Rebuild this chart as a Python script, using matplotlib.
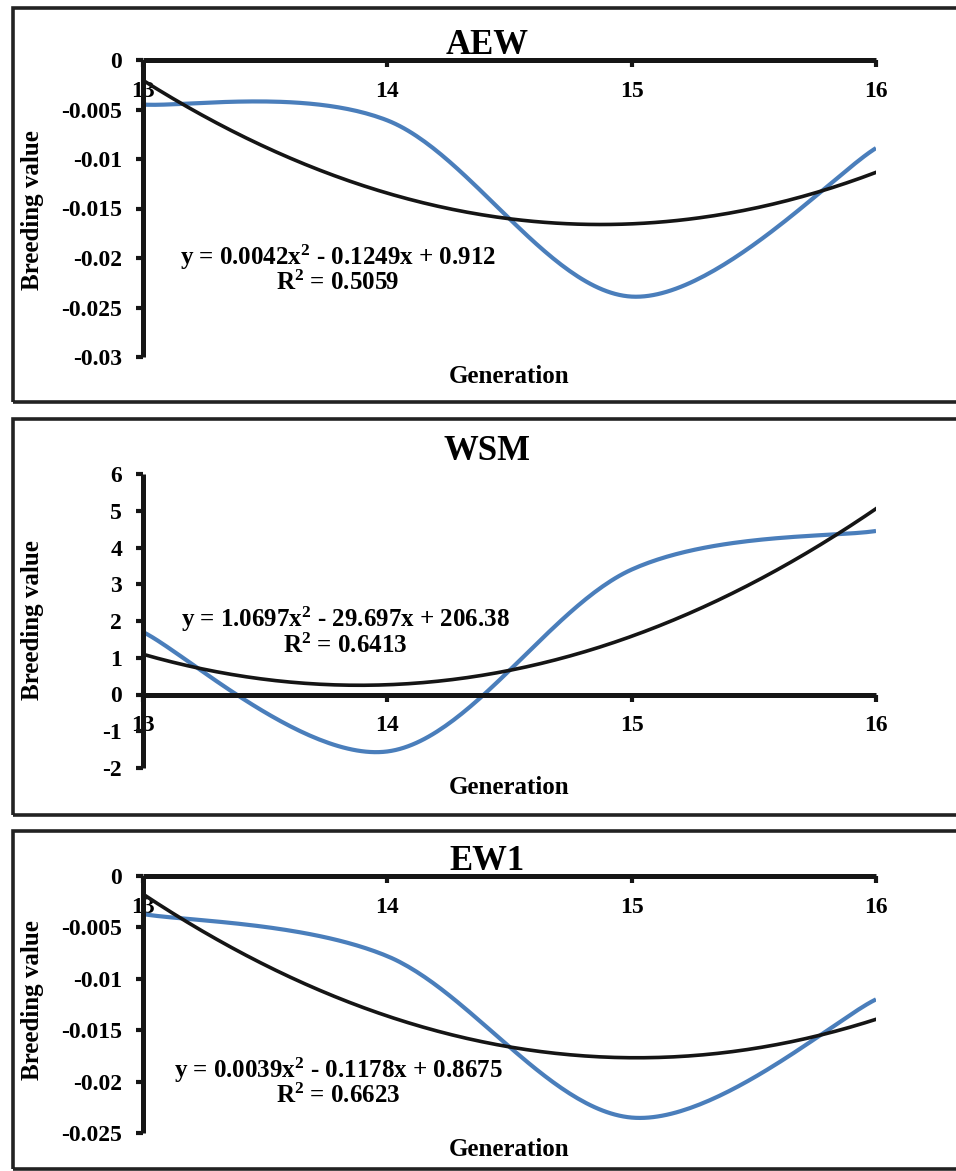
import numpy as np
import matplotlib.pyplot as plt
from matplotlib.patches import Rectangle

plt.rcParams['font.family'] = ['Liberation Serif', 'DejaVu Serif']
plt.rcParams['font.weight'] = 'bold'
plt.rcParams['mathtext.default'] = 'regular'

generations = [13, 14, 15, 16]
aew = [-0.0045, -0.0061, -0.0239, -0.0089]
wsm = [1.7, -1.55, 3.4, 4.45]
ew1 = [-0.0037, -0.0078, -0.0235, -0.0120]

aew_yticks = [0, -0.005, -0.01, -0.015, -0.02, -0.025, -0.03]
aew_ylabels = ['0', '-0.005', '-0.01', '-0.015', '-0.02', '-0.025', '-0.03']
wsm_yticks = [6, 5, 4, 3, 2, 1, 0, -1, -2]
wsm_ylabels = ['6', '5', '4', '3', '2', '1', '0', '-1', '-2']
ew1_yticks = [0, -0.005, -0.01, -0.015, -0.02, -0.025]
ew1_ylabels = ['0', '-0.005', '-0.01', '-0.015', '-0.02', '-0.025']

titles = ['AEW', 'WSM', 'EW1']
equations = ['y = 0.0042x$^2$ - 0.1249x + 0.912',
             'y = 1.0697x$^2$ - 29.697x + 206.38',
             'y = 0.0039x$^2$ - 0.1178x + 0.8675']
r2_texts = ['R$^2$ = 0.5059', 'R$^2$ = 0.6413', 'R$^2$ = 0.6623']

BLUE = '#4A7EBB'
W, H = 956, 1171


def smooth(x, y, n=60):
    # excel-like smoothed line: bezier segments with catmull-rom control points
    p = np.column_stack([x, y]).astype(float)
    pts = np.vstack([p[0], p, p[-1]])
    t = np.linspace(0, 1, n)[:, None]
    segs = []
    for i in range(1, len(pts) - 2):
        p0, p1, p2, p3 = pts[i - 1], pts[i], pts[i + 1], pts[i + 2]
        c1 = p1 + (p2 - p0) / 6
        c2 = p2 - (p3 - p1) / 6
        segs.append((1 - t)**3 * p1 + 3 * (1 - t)**2 * t * c1
                    + 3 * (1 - t) * t**2 * c2 + t**3 * p2)
    return np.vstack(segs)


def fx(px):
    return px / W


def fy(py):
    return 1 - py / H


fig = plt.figure(figsize=(9.56, 11.71), dpi=100)

# panel: (series, yticks, ylabels, axes top/bottom px, frame top/bottom px,
#         title y, eq centre x/y, r2 y, ylabel y, generation y)
panels = [
    (aew, aew_yticks, aew_ylabels, 60, 357, 8, 402, 45, 338, 257, 283, 210, 376),
    (wsm, wsm_yticks, wsm_ylabels, 474, 768, 419, 815, 451, 345, 619, 646, 620, 787),
    (ew1, ew1_yticks, ew1_ylabels, 876, 1133, 831, 1169, 861, 338, 1070, 1096, 1000, 1150),
]

for k, (vals, yt, yl, atop, abot, ftop, fbot, ty, ex, ey, ry, yly, gy) in enumerate(panels):
    fig.patches.append(Rectangle((fx(13), fy(fbot)), 1.2, fy(ftop) - fy(fbot),
                                 transform=fig.transFigure, fill=False,
                                 edgecolor='#222222', linewidth=2.6))

    ax = fig.add_axes([fx(143), fy(abot), fx(876) - fx(143), fy(atop) - fy(abot)])
    ax.set_facecolor('none')

    curve = smooth(generations, vals)
    ax.plot(curve[:, 0], curve[:, 1], color=BLUE, lw=3.0, solid_capstyle='butt')

    coef = np.polyfit(generations, vals, 2)
    xs = np.linspace(13, 16, 200)
    ax.plot(xs, np.polyval(coef, xs), color='#151515', lw=2.6)

    ax.set_xlim(13, 16)
    ax.set_ylim(min(yt), max(yt))
    ax.set_xticks(generations)
    ax.set_xticklabels([str(g) for g in generations])
    ax.set_yticks(yt)
    ax.set_yticklabels(yl)

    for s in ['top', 'right']:
        ax.spines[s].set_visible(False)
    ax.spines['bottom'].set_position(('data', 0))
    for s in ['left', 'bottom']:
        ax.spines[s].set_linewidth(3.6)
        ax.spines[s].set_color('#151515')
        ax.spines[s].set_capstyle('butt')
    ax.tick_params(axis='both', direction='out', length=5, width=3, color='#151515',
                   labelsize=17)
    ax.tick_params(axis='x', pad=10)
    ax.tick_params(axis='y', pad=10)

    fig.text(fx(487), fy(ty), titles[k], ha='center', va='center', fontsize=25,
             fontweight='bold')
    fig.text(fx(ex), fy(ey), equations[k], ha='center', va='center', fontsize=18,
             fontweight='bold')
    fig.text(fx(ex), fy(ry), r2_texts[k], ha='center', va='center', fontsize=18,
             fontweight='bold')
    fig.text(fx(33), fy(yly), 'Breeding value', rotation=90, ha='center', va='center',
             fontsize=18, fontweight='bold')
    fig.text(fx(509), fy(gy), 'Generation', ha='center', va='center', fontsize=18,
             fontweight='bold')

fig.savefig('out.png', dpi=100)
